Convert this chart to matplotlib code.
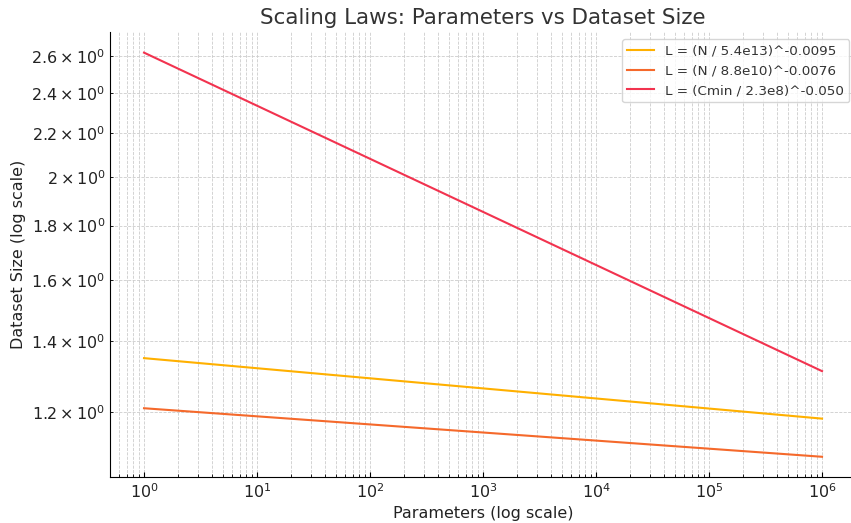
import numpy as np
import matplotlib.pyplot as plt

# parameter counts (endpoints of each power-law line)
params = [1e0, 1e6]

# dataset size values
loss_n1 = [1.350, 1.184]
loss_n2 = [1.211, 1.090]
loss_cmin = [2.619, 1.3125]

labels = [
    "L = (N / 5.4e13)^-0.0095",
    "L = (N / 8.8e10)^-0.0076",
    "L = (Cmin / 2.3e8)^-0.050",
]
colors = ["#FFB000", "#F5692B", "#F2334F"]

fig = plt.figure(figsize=(8.51, 5.23), dpi=100)
ax = plt.gca()

for ys, lab, c in zip([loss_n1, loss_n2, loss_cmin], labels, colors):
    ax.plot(params, ys, label=lab, color=c, linewidth=1.5)

ax.set_xscale("log")
ax.set_yscale("log")

ax.grid(True, which="both", linestyle="--", linewidth=0.6, color="#cccccc")
ax.spines["top"].set_visible(False)
ax.spines["right"].set_visible(False)
ax.tick_params(which="both", direction="in", labelsize=11.5, labelcolor="#222222")

ax.set_xlabel("Parameters (log scale)", fontsize=11.5, color="#222222")
ax.set_ylabel("Dataset Size (log scale)", fontsize=11.5, color="#222222")
ax.set_title("Scaling Laws: Parameters vs Dataset Size", fontsize=15.4, color="#333333")
ax.legend(loc="upper right", fontsize=9.7, labelcolor="#333333")

# axes runs a little past the right edge, like the reference
plt.subplots_adjust(left=0.1294, right=1.0058, bottom=0.088, top=0.938)
plt.savefig("out.png", dpi=100)
